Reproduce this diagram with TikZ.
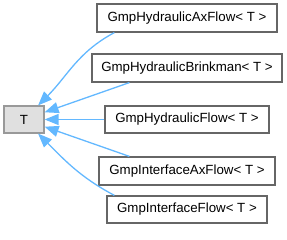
\documentclass[tikz,border=0pt]{standalone}
\usepackage{fontspec}
\setmainfont{Liberation Sans}
\usetikzlibrary{arrows.meta}
\definecolor{edgeblue}{HTML}{63B8FF}
\definecolor{basefill}{HTML}{E0E0E0}
\definecolor{basedraw}{HTML}{999999}
\definecolor{classdraw}{HTML}{666666}

\begin{document}
\begin{tikzpicture}[x=1pt, y=1pt, font=\fontsize{13.3}{16}\selectfont,
  cls/.style={draw=classdraw, fill=white, line width=1.2pt, minimum height=28pt, inner sep=0pt},
  base/.style={draw=basedraw, fill=basefill, line width=1.2pt, minimum height=27pt, minimum width=40pt, inner sep=0pt},
  inherit/.style={draw=edgeblue, line width=1.3pt, -{Triangle[length=14pt, width=11pt, fill=edgeblue]}}]

\useasboundingbox (0, 0) rectangle (287, 240);

\node [base] (t) at (24, 120.5) {T};

\node [cls, minimum width=180pt] (hax) at (187, 222) {GmpHydraulicAxFlow< T >};
\node [cls, minimum width=190pt] (hbr) at (187, 172) {GmpHydraulicBrinkman< T >};
\node [cls, minimum width=164pt, minimum height=27pt] (hfl) at (187, 120.5) {GmpHydraulicFlow< T >};
\node [cls, minimum width=176pt] (iax) at (187, 69) {GmpInterfaceAxFlow< T >};
\node [cls, minimum width=160pt, minimum height=27pt] (ifl) at (187, 30.5) {GmpInterfaceFlow< T >};

\draw [inherit] ([xshift=18pt]hax.south west) to[out=208, in=45] (t);
\draw [inherit] ([xshift=38pt]hbr.south west) -- (t);
\draw [inherit] (hfl) -- (t);
\draw [inherit] ([xshift=31pt]iax.north west) -- (t);
\draw [inherit] ([xshift=8pt]ifl.north west) to[out=152, in=-45] (t);

\end{tikzpicture}
\end{document}
